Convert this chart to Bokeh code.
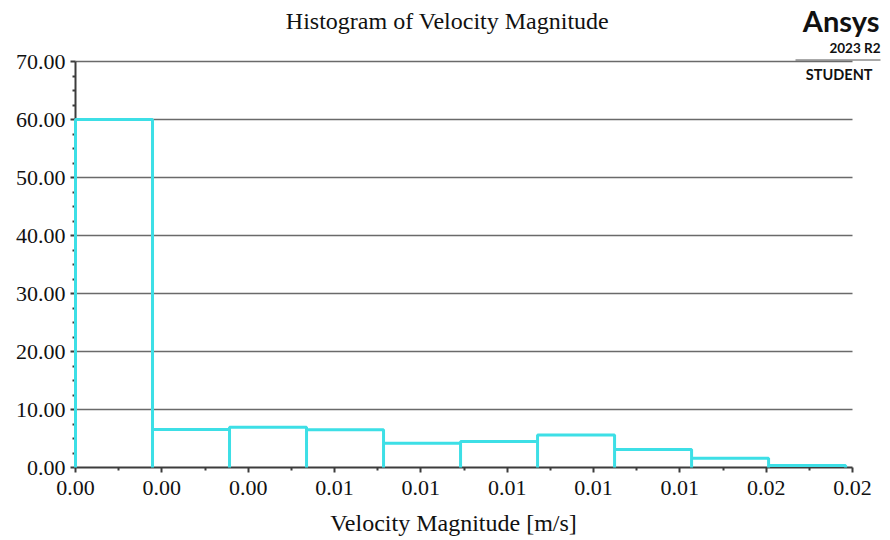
from bokeh.plotting import figure
from bokeh.models import FixedTicker, PrintfTickFormatter, Label, LinearAxis
from bokeh.embed import file_html
from bokeh.resources import INLINE

# Histogram bins of velocity magnitude [m/s] and share of samples [%]
bin_edges = [0.0, 0.001784, 0.003568, 0.005352, 0.007136, 0.00892,
             0.010704, 0.012488, 0.014272, 0.016056, 0.01784]
percent = [60.0, 6.55, 6.95, 6.5, 4.2, 4.5, 5.6, 3.1, 1.6, 0.35]

x_ticks = [0.0, 0.002, 0.004, 0.006, 0.008, 0.010, 0.012, 0.014, 0.016, 0.018]
x_minor = [0.001, 0.003, 0.005, 0.007, 0.009, 0.011, 0.013, 0.015, 0.017]
y_ticks = [0, 10, 20, 30, 40, 50, 60, 70]
y_minor = [2.5, 5, 7.5, 12.5, 15, 17.5, 22.5, 25, 27.5, 32.5, 35, 37.5,
           42.5, 45, 47.5, 52.5, 55, 57.5, 62.5, 65, 67.5]

X_MAX, Y_MAX = 0.018, 70.0
SERIF = "Liberation Serif"
CYAN = "#3ddfe6"
INK = "#111111"
AXIS = "#3c3c3c"

# canvas geometry: the plotting box spans x 75..852 px and y 61..467 px
W, H = 890, 540
LEFT, RIGHT, TOP, BOTTOM = 75, 852, 61, 467
KX = (RIGHT - LEFT) / X_MAX          # px per m/s
KY = (BOTTOM - TOP) / Y_MAX          # px per percent

def px_x(px):
    return (px - LEFT) / KX

def px_y(py):
    return (BOTTOM - py) / KY

# the frame covers the whole canvas so titles and badge are inside it
p = figure(width=W, height=H,
           x_range=(px_x(0), px_x(W)), y_range=(px_y(H), px_y(0)),
           output_backend="svg", toolbar_location=None,
           x_axis_type=None, y_axis_type=None,
           min_border=0)
p.outline_line_color = None
p.background_fill_color = "white"
p.border_fill_color = "white"
p.xgrid.grid_line_color = None
p.ygrid.grid_line_color = None

# horizontal grid lines across the data box
p.segment(x0=[0] * (len(y_ticks) - 1), y0=y_ticks[1:],
          x1=[X_MAX] * (len(y_ticks) - 1), y1=y_ticks[1:],
          line_color="#6a6a6a", line_width=1.5)

# histogram outline: each bin drawn as an open box down to the baseline
xs, ys = [], []
for left, right, h in zip(bin_edges[:-1], bin_edges[1:], percent):
    xs += [left, left, right, right]
    ys += [0, h, h, 0]
p.line(xs, ys, line_color=CYAN, line_width=3, level="overlay")

xaxis = LinearAxis(fixed_location=0, bounds=(0, X_MAX),
                   ticker=FixedTicker(ticks=x_ticks, minor_ticks=x_minor),
                   formatter=PrintfTickFormatter(format="%.2f"))
yaxis = LinearAxis(fixed_location=0, bounds=(0, Y_MAX),
                   ticker=FixedTicker(ticks=y_ticks, minor_ticks=y_minor),
                   formatter=PrintfTickFormatter(format="%.2f"))
for ax in (xaxis, yaxis):
    ax.axis_line_color = AXIS
    ax.axis_line_width = 2
    ax.major_tick_line_color = AXIS
    ax.major_tick_line_width = 2
    ax.major_tick_out = 5
    ax.major_tick_in = 0
    ax.minor_tick_line_color = AXIS
    ax.minor_tick_line_width = 2
    ax.minor_tick_out = 3
    ax.minor_tick_in = 0
    ax.major_label_text_font = SERIF
    ax.major_label_text_font_size = "22px"
    ax.major_label_text_color = INK
yaxis.major_label_standoff = 5
xaxis.major_label_standoff = 8
p.add_layout(xaxis, "below")
p.add_layout(yaxis, "left")

p.add_layout(Label(x=px_x(447), y=px_y(20), text="Histogram of Velocity Magnitude",
                   text_font=SERIF, text_font_size="24px", text_color=INK,
                   text_align="center", text_baseline="middle"))
p.add_layout(Label(x=px_x(453), y=px_y(522), text="Velocity Magnitude [m/s]",
                   text_font=SERIF, text_font_size="24px", text_color=INK,
                   text_align="center", text_baseline="middle"))

# product badge in the top-right corner
p.add_layout(Label(x=px_x(879), y=px_y(20), text="Ansys", text_font="Lato",
                   text_font_style="bold", text_font_size="29px", text_color=INK,
                   text_align="right", text_baseline="middle"))
p.add_layout(Label(x=px_x(880), y=px_y(47), text="2023 R2", text_font="Lato",
                   text_font_style="bold", text_font_size="13.5px", text_color=INK,
                   text_align="right", text_baseline="middle"))
p.segment(x0=[px_x(795)], y0=[px_y(59.5)], x1=[px_x(880)], y1=[px_y(59.5)],
          line_color="#555555", line_width=1)
p.add_layout(Label(x=px_x(872), y=px_y(74), text="STUDENT", text_font="Lato",
                   text_font_style="bold", text_font_size="14.5px", text_color=INK,
                   text_align="right", text_baseline="middle"))

open("out.html", "w").write(file_html(p, INLINE))
